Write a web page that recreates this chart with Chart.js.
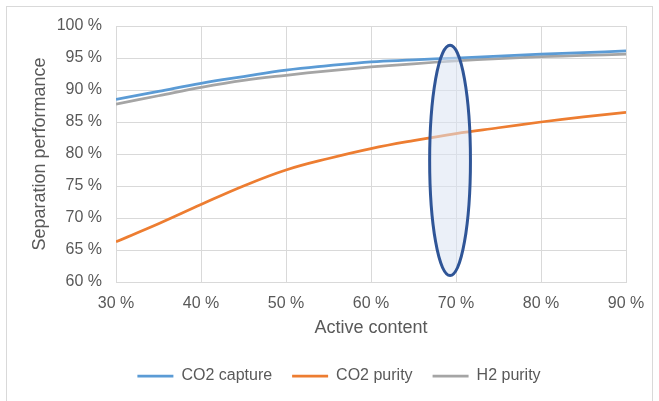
<!DOCTYPE html>
<html>
<head>
<meta charset="utf-8">
<script src="https://cdn.jsdelivr.net/npm/chart.js@4"></script>
<style>
  html, body { margin: 0; padding: 0; background: #fff; }
  #wrap { position: relative; width: 659px; height: 401px; }
  #frame { position: absolute; left: 6px; top: 6px; width: 645px; height: 400px; border: 1px solid #d9d9d9; pointer-events: none; }
</style>
</head>
<body>
<div id="wrap">
  <canvas id="chart" width="659" height="401"></canvas>
  <div id="frame"></div>
</div>
<script>
// ============================
//  DATA
// ============================

const activeContent = [30, 35, 40, 45, 50, 55, 60, 65, 70, 75, 80, 85, 90];
const co2Capture = [88.55, 89.8, 91.05, 92.1, 93.1, 93.8, 94.4, 94.7, 95.0, 95.3, 95.6, 95.85, 96.1];
const co2Purity  = [66.3, 69.1, 72.1, 75.0, 77.5, 79.3, 80.85, 82.1, 83.2, 84.1, 85.0, 85.8, 86.5];
const h2Purity   = [87.8, 89.1, 90.4, 91.5, 92.3, 93.0, 93.6, 94.1, 94.55, 94.9, 95.2, 95.4, 95.6];

// marked region (ellipse): centre + half-axes in data units
const markX = 69.3, markY = 79.0, markRX = 2.4, markRY = 18.0;

const textColor = '#595959';
const gridColor = '#d9d9d9';
const fontFamily = '"Liberation Sans", Arial, sans-serif';

function pts(ys) {
    return activeContent.map((x, i) => ({ x: x, y: ys[i] }));
}

// ellipse drawn over the lines, positioned through the scales
const ellipsePlugin = {
    id: 'ellipse',
    afterDatasetsDraw(chart) {
        const xs = chart.scales.x, ys = chart.scales.y;
        const cx = xs.getPixelForValue(markX);
        const cy = ys.getPixelForValue(markY);
        const rx = Math.abs(xs.getPixelForValue(markX + markRX) - cx);
        const ry = Math.abs(ys.getPixelForValue(markY + markRY) - cy);
        const c = chart.ctx;
        c.save();
        c.beginPath();
        c.ellipse(cx, cy, rx, ry, 0, 0, Math.PI * 2);
        c.fillStyle = 'rgba(218, 227, 243, 0.55)';
        c.fill();
        c.lineWidth = 3;
        c.strokeStyle = '#2F5597';
        c.stroke();
        c.restore();
    }
};

// nudge the legend to the right like in the original
const legendShift = {
    id: 'legendShift',
    afterLayout(chart) {
        chart.legend.left += 26;
        chart.legend.right += 26;
    }
};

const ctx = document.getElementById('chart').getContext('2d');

new Chart(ctx, {
    type: 'line',
    data: {
        datasets: [
            { label: 'CO2 capture', data: pts(co2Capture), borderColor: '#5B9BD5', backgroundColor: '#5B9BD5', borderWidth: 2.75 },
            { label: 'CO2 purity',  data: pts(co2Purity),  borderColor: '#ED7D31', backgroundColor: '#ED7D31', borderWidth: 2.75 },
            { label: 'H2 purity',   data: pts(h2Purity),   borderColor: '#A5A5A5', backgroundColor: '#A5A5A5', borderWidth: 2.75 }
        ]
    },
    options: {
        responsive: false,
        animation: false,
        layout: { padding: { left: 0, right: 33, top: 26, bottom: 7 } },
        elements: {
            line: { tension: 0.4 },
            point: { radius: 0 }
        },
        scales: {
            x: {
                type: 'linear',
                min: 30, max: 90,
                afterFit(s) { s.height = 66; },
                grid: { color: gridColor, drawTicks: false },
                border: { color: gridColor },
                ticks: {
                    stepSize: 10, padding: 12, color: textColor,
                    font: { family: fontFamily, size: 16 },
                    callback: v => v + ' %'
                },
                title: {
                    display: true, text: 'Active content', color: textColor,
                    font: { family: fontFamily, size: 18 },
                    padding: { top: 0, bottom: 8.7 }
                }
            },
            y: {
                min: 60, max: 100,
                afterFit(s) { s.width = 116; },
                grid: { color: gridColor, drawTicks: false },
                border: { color: gridColor },
                ticks: {
                    stepSize: 5, padding: 14, color: textColor,
                    font: { family: fontFamily, size: 16 },
                    callback: v => v + ' %'
                },
                title: {
                    display: true, text: 'Separation performance', color: textColor,
                    font: { family: fontFamily, size: 18 },
                    padding: { top: 29, bottom: 0 }
                }
            }
        },
        plugins: {
            tooltip: { enabled: false },
            legend: {
                position: 'bottom',
                labels: {
                    usePointStyle: true,
                    pointStyle: 'line',
                    pointStyleWidth: 36,
                    padding: 20,
                    color: textColor,
                    font: { family: fontFamily, size: 16 }
                }
            }
        }
    },
    plugins: [ellipsePlugin, legendShift]
});
</script>
</body>
</html>
